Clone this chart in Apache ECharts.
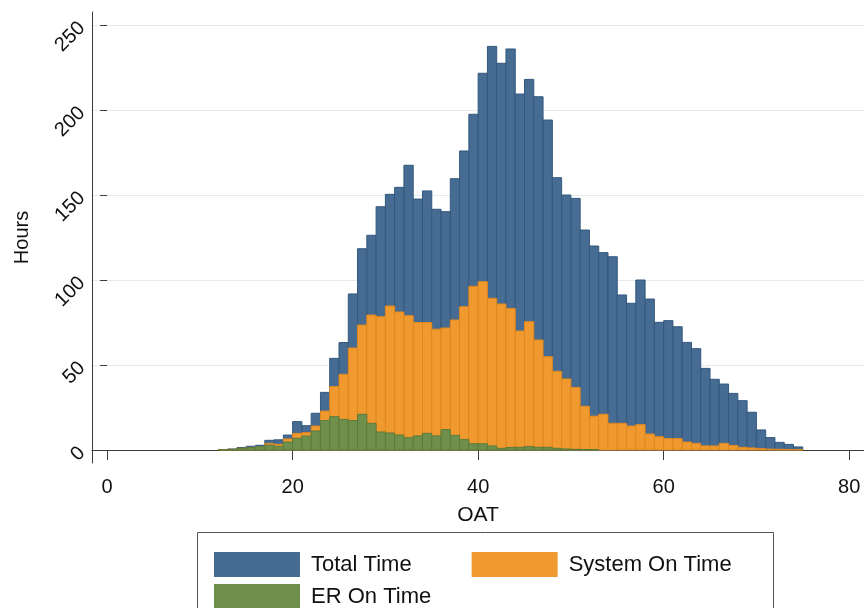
<!DOCTYPE html>
<html>
<head>
<meta charset="utf-8">
<script src="https://cdn.jsdelivr.net/npm/echarts@6/dist/echarts.min.js"></script>
<style>
html,body{margin:0;padding:0;background:#fff;}
#chart{width:864px;height:608px;}
</style>
</head>
<body>
<div id="chart"></div>
<script>
// OAT bin starts (1-degree bins)
const binStart = [12,13,14,15,16,17,18,19,20,21,22,23,24,25,26,27,28,29,30,31,32,33,34,35,36,37,38,39,40,41,42,43,44,45,46,47,48,49,50,51,52,53,54,55,56,57,58,59,60,61,62,63,64,65,66,67,68,69,70,71,72,73,74];
const totalTime = [0.3,0.6,1.5,2.2,2.8,5.7,6,8.8,16.7,14.3,21.6,33.9,53.9,63.2,91.8,118.4,126.3,143.1,150.4,154.5,167.5,147.6,152.4,141.6,140.2,159.6,175.9,197.5,221.6,237.4,227.5,235.9,209.4,218,207.8,194.1,160.2,150,148,129.4,120,116.1,113.7,91.2,86.3,100,88.8,75.1,76.1,72.5,63.3,59.6,48,41.6,38.8,33.3,29,22.2,11.8,7.3,4.5,3.3,1.8];
const systemOnTime = [0.2,0.4,1,1.4,2,3.9,3.3,6.5,9.8,10.2,14.1,22.9,37.3,44.5,60,73.5,79.4,78.4,84.7,81.2,79,75,75,71.1,71.8,76.5,84.3,96.3,99,89.2,85.9,83.3,70,75.5,64.7,54.9,46.3,41.8,36.8,25.7,19.9,21,15.7,15.7,14.1,14.9,9.4,7.8,6.7,6.7,4.7,3.9,2.4,2.4,3.9,2.7,1.6,1.2,0.8,0.5,0.4,0.3,0.3];
const erOnTime = [0.2,0.4,1,1.4,2,2.9,2.2,4.7,6.9,8.2,11.2,17.3,19.6,18,17.3,21,15.7,10.6,10,8.8,7.2,8.3,9.8,8.3,12,8.6,6.1,3.7,3.7,2.4,1,1.5,1.6,2,1.6,1.6,1,0.6,0.4,0.3,0.2,0,0,0,0,0,0,0,0,0,0,0,0,0,0,0,0,0,0,0,0,0,0];
const xTicks = [0,20,40,60,80];
const seriesNames = ['Total Time','System On Time','ER On Time'];

const binWidth = 1;
const colors = {
  'Total Time': {fill:'#466c93', stroke:'#33587d'},
  'System On Time': {fill:'#f0992f', stroke:'#e0881f'},
  'ER On Time': {fill:'#6f8f4c', stroke:'#5c7b3c'}
};
const FONT = '"Liberation Sans", Arial, sans-serif';

function makeSeries(name, values) {
  const c = colors[name];
  return {
    type: 'custom',
    name: name,
    xAxisIndex: 0,
    yAxisIndex: 0,
    itemStyle: {color: c.fill, borderColor: c.stroke},
    data: binStart.map((b, i) => [b, values[i]]),
    encode: {x: 0, y: 1},
    renderItem: function (params, api) {
      const x0 = api.value(0), h = api.value(1);
      if (!(h > 0)) return null;
      const p0 = api.coord([x0, h]);
      const p1 = api.coord([x0 + binWidth, 0]);
      return {
        type: 'rect',
        shape: {x: p0[0], y: p0[1], width: p1[0] - p0[0], height: p1[1] - p0[1]},
        style: {fill: c.fill, stroke: c.stroke, lineWidth: 1}
      };
    }
  };
}

const chart = echarts.init(document.getElementById('chart'), null, {renderer: 'canvas'});
chart.setOption({
  animation: false,
  backgroundColor: '#fff',
  textStyle: {fontFamily: FONT},
  grid: [
    {left: 92, right: 0, top: 25, bottom: 158},
    {left: 92, right: 0, top: 12, bottom: 145}
  ],
  xAxis: [
    {
      type: 'value', gridIndex: 0, min: -1.63, max: 81.6, offset: 13,
      axisLine: {show: true, lineStyle: {color: '#3a3a3a', width: 1}},
      axisTick: {show: true, length: 10, customValues: xTicks, lineStyle: {color: '#3a3a3a'}},
      axisLabel: {customValues: xTicks, fontSize: 20, color: '#111', margin: 14, fontFamily: FONT},
      splitLine: {show: false},
      name: 'OAT', nameLocation: 'middle', nameGap: 42,
      nameTextStyle: {fontSize: 21, color: '#111', fontFamily: FONT}
    },
    {type: 'value', gridIndex: 1, min: 0, max: 1, show: false}
  ],
  yAxis: [
    {
      type: 'value', gridIndex: 0, min: 0, max: 250, interval: 50,
      axisLine: {show: false},
      axisTick: {show: true, length: 7, lineStyle: {color: '#3a3a3a'}},
      axisLabel: {rotate: 45, fontSize: 20, color: '#111', margin: 10, fontFamily: FONT},
      splitLine: {show: true, lineStyle: {color: '#e2ebee', width: 1}},
      name: 'Hours', nameLocation: 'middle', nameGap: 60, nameRotate: 90,
      nameTextStyle: {fontSize: 20, color: '#111', fontFamily: FONT}
    },
    {
      type: 'value', gridIndex: 1, min: 0, max: 1,
      axisLine: {show: true, lineStyle: {color: '#3a3a3a', width: 1}},
      axisTick: {show: false}, axisLabel: {show: false}, splitLine: {show: false}
    }
  ],
  legend: [
    {
      left: 209, top: 547, orient: 'horizontal', itemWidth: 86, itemHeight: 25, itemGap: 60,
      data: [
        {name: 'Total Time', icon: 'rect'},
        {name: 'System On Time', icon: 'rect'}
      ],
      textStyle: {fontSize: 22, color: '#111', fontFamily: FONT, padding: [0, 0, 0, 6]},
      selectedMode: false
    },
    {
      left: 209, top: 579, orient: 'horizontal', itemWidth: 86, itemHeight: 25,
      data: [{name: 'ER On Time', icon: 'rect'}],
      textStyle: {fontSize: 22, color: '#111', fontFamily: FONT, padding: [0, 0, 0, 6]},
      selectedMode: false
    }
  ],
  graphic: [
    {type: 'rect', left: 197, top: 532, z: -1, shape: {width: 576, height: 100},
     style: {fill: '#fff', stroke: '#555', lineWidth: 1}}
  ],
  series: [
    makeSeries('Total Time', totalTime),
    makeSeries('System On Time', systemOnTime),
    makeSeries('ER On Time', erOnTime)
  ]
});
</script>
</body>
</html>
